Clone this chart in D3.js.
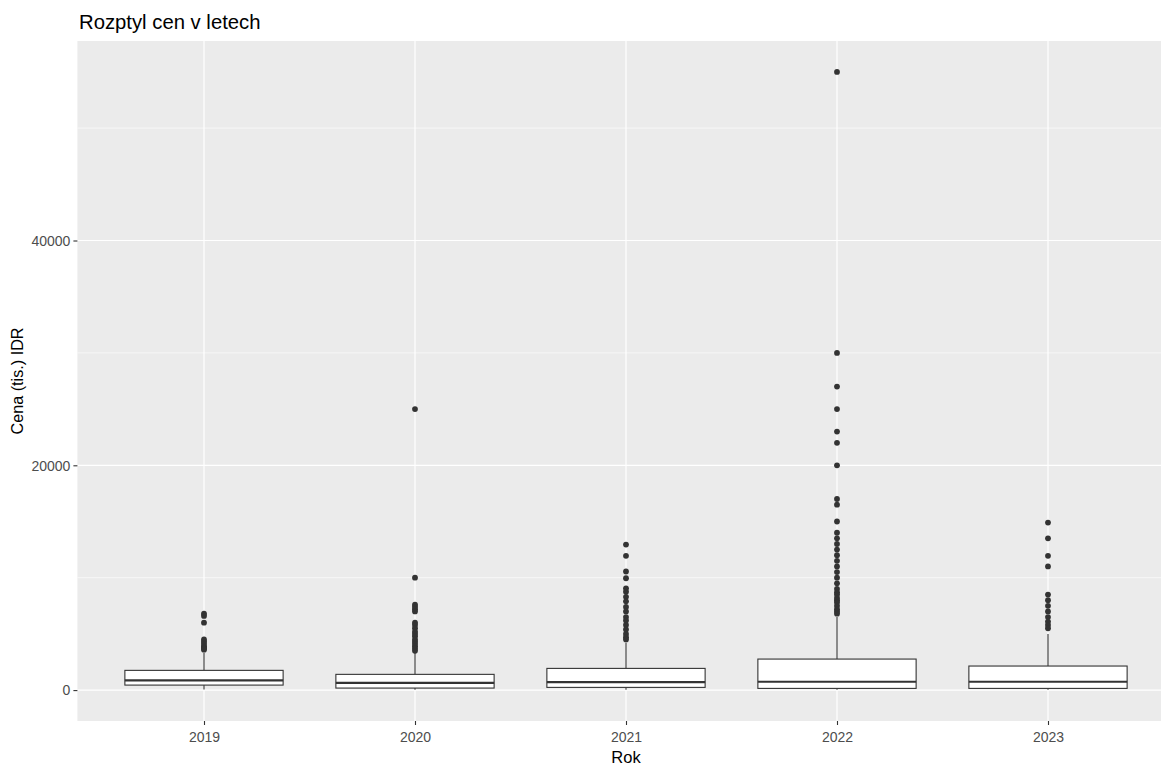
<!DOCTYPE html>
<html><head><meta charset="utf-8">
<script src="https://cdn.jsdelivr.net/npm/d3@7"></script>
<style>body{margin:0;background:#fff;} text{font-family:"Liberation Sans",Arial,sans-serif;}</style>
</head><body>
<script>
const years = ["2019","2020","2021","2022","2023"];
const q1 = [445, 180, 240, 150, 150];
const medians = [864, 650, 710, 740, 740];
const q3 = [1755, 1400, 1930, 2760, 2140];
const whiskerLow = [60, 40, 30, 20, 20];
const whiskerHigh = [3320, 3300, 4200, 6500, 5000];
const outliers2019 = [6800, 6600, 6000, 4500, 4300, 4100, 3900, 3800, 3700, 3600];
const outliers2020 = [25000, 10000, 7600, 7400, 7200, 7000, 6000, 5800, 5500, 5200, 5000, 4800, 4500, 4300, 4100, 3900, 3700, 3500];
const outliers2021 = [12950, 11950, 10550, 9950, 9050, 8750, 8300, 7900, 7400, 7000, 6500, 6200, 5800, 5400, 5000, 4700, 4500];
const outliers2022 = [55000, 30000, 27000, 25000, 23000, 22000, 20000, 17000, 16500, 15000, 14000, 13500, 13000, 12500, 12000, 11500, 11000, 10500, 10000, 9500, 9000, 8700, 8500, 8200, 8000, 7800, 7500, 7200, 7000, 6800];
const outliers2023 = [14900, 13500, 11950, 11000, 8500, 8000, 7500, 7000, 6500, 6100, 5800, 5500];
const outlierLists = [outliers2019, outliers2020, outliers2021, outliers2022, outliers2023];
const yTicks = [0, 20000, 40000];
const yMinor = [10000, 30000, 50000];

const W = 1161, H = 765;
const svg = d3.select("body").append("svg").attr("width", W).attr("height", H);

const x = d3.scalePoint().domain(years).range([204, 1048]);
const step = x.step();
const panelL = x(years[0]) - 0.6 * step, panelR = x(years[years.length-1]) + 0.6 * step;
const y = d3.scaleLinear().domain([-2750, 57750]).range([721, 41]);
const panelT = 41, panelB = 721;

svg.append("rect").attr("x", panelL).attr("y", panelT).attr("width", panelR - panelL).attr("height", panelB - panelT).attr("fill", "#EBEBEB");

const g = svg.append("g");
g.selectAll(".minor").data(yMinor).join("line")
  .attr("x1", panelL).attr("x2", panelR).attr("y1", d => y(d)).attr("y2", d => y(d))
  .attr("stroke", "#fff").attr("stroke-width", 0.6);
g.selectAll(".major").data(yTicks).join("line")
  .attr("x1", panelL).attr("x2", panelR).attr("y1", d => y(d)).attr("y2", d => y(d))
  .attr("stroke", "#fff").attr("stroke-width", 1.2);
g.selectAll(".vmajor").data(years).join("line")
  .attr("x1", d => x(d)).attr("x2", d => x(d)).attr("y1", panelT).attr("y2", panelB)
  .attr("stroke", "#fff").attr("stroke-width", 1.2);

const data = years.map((yr, i) => ({yr, q1: q1[i], med: medians[i], q3: q3[i], lo: whiskerLow[i], hi: whiskerHigh[i], out: outlierLists[i]}));
const bw = 0.75 * step;
const boxes = svg.append("g").selectAll("g").data(data).join("g");
boxes.append("line").attr("x1", d => x(d.yr)).attr("x2", d => x(d.yr))
  .attr("y1", d => y(d.q3)).attr("y2", d => y(d.hi)).attr("stroke", "#333").attr("stroke-width", 1.1);
boxes.append("line").attr("x1", d => x(d.yr)).attr("x2", d => x(d.yr))
  .attr("y1", d => y(d.q1)).attr("y2", d => y(d.lo)).attr("stroke", "#333").attr("stroke-width", 1.1);
boxes.append("rect").attr("x", d => x(d.yr) - bw/2).attr("width", bw)
  .attr("y", d => y(d.q3)).attr("height", d => y(d.q1) - y(d.q3))
  .attr("fill", "#fff").attr("stroke", "#333").attr("stroke-width", 1.1);
boxes.append("line").attr("x1", d => x(d.yr) - bw/2).attr("x2", d => x(d.yr) + bw/2)
  .attr("y1", d => y(d.med)).attr("y2", d => y(d.med)).attr("stroke", "#333").attr("stroke-width", 2.2);
boxes.selectAll("circle").data(d => d.out.map(v => ({yr: d.yr, v}))).join("circle")
  .attr("cx", d => x(d.yr)).attr("cy", d => y(d.v)).attr("r", 2.9).attr("fill", "#333");

// axes
const yAxis = svg.append("g").attr("transform", `translate(${panelL},0)`)
  .call(d3.axisLeft(y).tickValues(yTicks).tickSize(4).tickPadding(3).tickFormat(d3.format("d")));
yAxis.select(".domain").remove();
yAxis.selectAll("line").attr("stroke", "#333").attr("stroke-width", 1.1);
yAxis.selectAll("text").attr("fill", "#4D4D4D").style("font-size", "14px").attr("dy", "0.35em");

const xAxis = svg.append("g").attr("transform", `translate(0,${panelB})`)
  .call(d3.axisBottom(x).tickSize(4).tickPadding(3));
xAxis.select(".domain").remove();
xAxis.selectAll("line").attr("stroke", "#333").attr("stroke-width", 1.1);
xAxis.selectAll("text").attr("fill", "#4D4D4D").style("font-size", "14px").attr("y", 21).attr("dy", null);

svg.append("text").attr("x", (panelL + panelR) / 2).attr("y", 762.5).attr("text-anchor", "middle")
  .style("font-size", "16.5px").attr("fill", "#000").text("Rok");
svg.append("text").attr("transform", `translate(23,${(panelT + panelB) / 2}) rotate(-90)`).attr("text-anchor", "middle")
  .style("font-size", "16.2px").attr("fill", "#000").text("Cena (tis.) IDR");
svg.append("text").attr("x", 79).attr("y", 29.3).style("font-size", "20.3px").attr("fill", "#000").text("Rozptyl cen v letech");
</script>
</body></html>
